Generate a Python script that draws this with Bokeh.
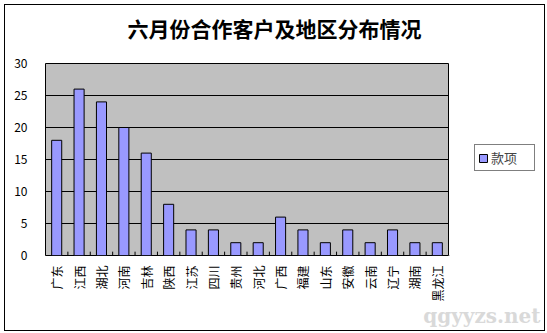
import math
from bokeh.plotting import figure
from bokeh.layouts import column, row
from bokeh.models import Legend, LegendItem, FixedTicker, Label
from bokeh.transform import dodge
from bokeh.embed import file_html
from bokeh.resources import INLINE

title = "六月份合作客户及地区分布情况"
regions = ["广东", "江西", "湖北", "河南", "吉林", "陕西", "江苏", "四川", "贵州",
           "河北", "广西", "福建", "山东", "安徽", "云南", "辽宁", "湖南", "黑龙江"]
amounts = [18, 26, 24, 20, 16, 8, 4, 4, 2, 2, 6, 4, 2, 4, 2, 4, 2, 2]
series_name = "款项"
y_ticks = [0, 5, 10, 15, 20, 25, 30]
watermark = "qgyyzs.net"

FONT = "Noto Sans CJK SC"
BAR_FILL = "#9999FF"


def blank_strip(width, height):
    f = figure(width=width, height=height, x_range=(0, 1), y_range=(0, 1),
               x_axis_location=None, y_axis_location=None,
               output_backend="svg", toolbar_location=None, min_border=0)
    f.outline_line_color = None
    f.background_fill_color = "white"
    f.border_fill_color = "white"
    f.grid.grid_line_color = None
    return f


# ---- title strip ----
pt = blank_strip(539, 40)
pt.add_layout(Label(x=269, y=18, x_units="screen", y_units="screen", text=title,
                    text_font=FONT, text_font_size="21px", text_font_style="bold",
                    text_align="center", text_baseline="middle", text_color="black"))

# ---- main chart ----
p = figure(x_range=regions, y_range=(0, 30), width=444, height=259,
           output_backend="svg", toolbar_location=None,
           min_border_left=40, min_border_right=1, min_border_top=18, min_border_bottom=48)
p.background_fill_color = "#C0C0C0"
p.border_fill_color = "white"
p.outline_line_color = "black"
p.outline_line_width = 1

bars = p.vbar(x=regions, top=amounts, width=0.45, fill_color=BAR_FILL, line_color="black", line_width=1)

# boundary ticks on category axis
p.segment(x0=dodge("x", -0.5, range=p.x_range), y0=0, x1=dodge("x", -0.5, range=p.x_range), y1=0.6,
          source={"x": regions}, line_color="black", line_width=1)

p.xgrid.grid_line_color = None
p.ygrid.grid_line_color = "black"
p.ygrid.grid_line_width = 1
p.yaxis.ticker = FixedTicker(ticks=y_ticks)
p.yaxis.axis_line_color = None
p.yaxis.major_tick_line_color = None
p.yaxis.minor_tick_line_color = None
p.yaxis.major_label_standoff = 12
p.yaxis.major_label_text_font = FONT
p.yaxis.major_label_text_font_size = "12px"
p.yaxis.major_label_text_color = "black"

p.xaxis.axis_line_color = None
p.xaxis.major_tick_line_color = None
p.xaxis.major_tick_out = 0
p.xaxis.major_label_orientation = math.pi / 2
p.xaxis.major_label_standoff = 10
p.xaxis.major_label_text_font = FONT
p.xaxis.major_label_text_font_size = "12px"
p.xaxis.major_label_text_color = "black"

# ---- legend strip (frame aligned with the chart's plot area) ----
pl = blank_strip(95, 259)
swatch = pl.vbar(x=[-1], top=[0], width=0.45, fill_color=BAR_FILL, line_color="black", line_width=1)
legend = Legend(items=[LegendItem(label=series_name, renderers=[swatch], index=0)],
                location=(25, 84), orientation="vertical",
                border_line_color="black", border_line_width=1,
                background_fill_color="white", background_fill_alpha=1,
                label_text_font=FONT, label_text_font_size="13px",
                glyph_width=10, glyph_height=10, padding=3, spacing=0, margin=0,
                label_standoff=3, label_width=40, label_height=17)
pl.add_layout(legend, "center")

# ---- bottom strip with watermark ----
pb = blank_strip(539, 26)
pb.add_layout(Label(x=535, y=15, x_units="screen", y_units="screen", text=watermark,
                    text_font="DejaVu Serif", text_font_size="20px", text_font_style="bold",
                    text_color="#d9d9d9", text_align="right", text_baseline="alphabetic"))

layout = column(pt, row(p, pl), pb)
layout.styles = {"border": "1px solid black", "margin-left": "4px", "margin-top": "4px"}

open("out.html", "w").write(file_html(layout, INLINE))
